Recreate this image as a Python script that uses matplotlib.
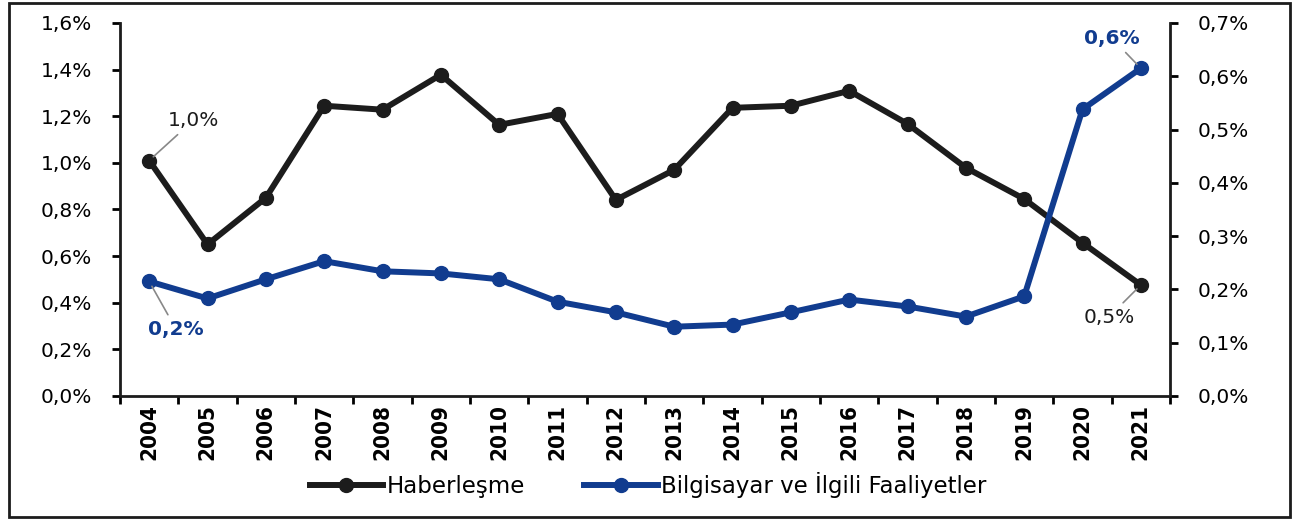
import matplotlib.pyplot as plt
from matplotlib.patches import Rectangle
from matplotlib.ticker import FuncFormatter

years = [str(y) for y in range(2004, 2022)]
haberlesme = [1.01, 0.65, 0.85, 1.245, 1.228, 1.378, 1.163, 1.21, 0.841, 0.97,
              1.236, 1.245, 1.309, 1.167, 0.979, 0.845, 0.657, 0.476]
bilgisayar = [0.215, 0.183, 0.219, 0.253, 0.234, 0.230, 0.219, 0.177, 0.157, 0.130,
              0.134, 0.157, 0.181, 0.168, 0.149, 0.187, 0.538, 0.615]

BLACK = "#1c1c1c"
BLUE = "#113c8f"
FONT = "DejaVu Sans"


def pct(v, _):
    return f"{v:.1f}%".replace(".", ",")


fig = plt.figure(figsize=(12.96, 5.22), dpi=100)
ax = fig.add_axes([0.0926, 0.2414, 0.9028 - 0.0926, 0.956 - 0.2414])
ax2 = ax.twinx()

x = range(len(years))
l1, = ax.plot(x, haberlesme, "-o", color=BLACK, lw=4.3, ms=10, label="Haberleşme")
l2, = ax2.plot(x, bilgisayar, "-o", color=BLUE, lw=4.3, ms=10,
               label="Bilgisayar ve İlgili Faaliyetler")

ax.set_xlim(-0.5, len(years) - 0.5)
ax.set_ylim(0, 1.6)
ax2.set_ylim(0, 0.7)
ax.set_yticks([i * 0.2 for i in range(9)])
ax2.set_yticks([i * 0.1 for i in range(8)])
ax.yaxis.set_major_formatter(FuncFormatter(pct))
ax2.yaxis.set_major_formatter(FuncFormatter(pct))

# category ticks sit between the years
ax.set_xticks([i - 0.5 for i in range(len(years) + 1)])
ax.set_xticklabels([])
ax.set_xticks(list(x), minor=True)
ax.set_xticklabels(years, minor=True, rotation=90, family="DejaVu Sans",
                   fontstretch="condensed", fontweight="bold", fontsize=16)
ax.tick_params(axis="x", which="minor", length=0, pad=6)
ax.tick_params(axis="x", which="major", length=6, width=2, direction="out")

for a in (ax, ax2):
    a.spines["top"].set_visible(False)
    for s in a.spines.values():
        s.set_linewidth(2)
        s.set_color(BLACK)
    a.tick_params(axis="y", length=6, width=2, labelsize=14.5, pad=14)
    for t in a.get_yticklabels():
        t.set_family(FONT)
ax.spines["right"].set_visible(False)
ax2.spines["left"].set_visible(False)
ax2.spines["bottom"].set_visible(False)

leader = dict(arrowstyle="-", color="#888888", lw=1.2, shrinkA=2, shrinkB=4)
ax.annotate("1,0%", (0, haberlesme[0]), xytext=(44, 40), textcoords="offset pixels",
            ha="center", va="center", fontsize=14.5, color=BLACK, family=FONT,
            arrowprops=leader)
ax.annotate("0,5%", (17, haberlesme[-1]), xytext=(-32, -32), textcoords="offset pixels",
            ha="center", va="center", fontsize=14.5, color=BLACK, family=FONT,
            arrowprops=leader)
ax2.annotate("0,2%", (0, bilgisayar[0]), xytext=(27, -48), textcoords="offset pixels",
             ha="center", va="center", fontsize=14.5, color=BLUE, family=FONT,
             fontweight="bold", arrowprops=leader)
ax2.annotate("0,6%", (17, bilgisayar[-1]), xytext=(-29, 30), textcoords="offset pixels",
             ha="center", va="center", fontsize=14.5, color=BLUE, family=FONT,
             fontweight="bold", arrowprops=leader)

fig.legend([l1, l2], [l1.get_label(), l2.get_label()], loc="center",
           bbox_to_anchor=(0.5, 0.071), ncol=2, frameon=False,
           prop={"family": FONT, "size": 16.5}, handlelength=3.2,
           columnspacing=2.6, handletextpad=0.15)

fig.patches.append(Rectangle((0.007, 0.01), 0.988, 0.985, transform=fig.transFigure,
                             fill=False, edgecolor=BLACK, lw=2))

fig.savefig("out.png", dpi=100)
